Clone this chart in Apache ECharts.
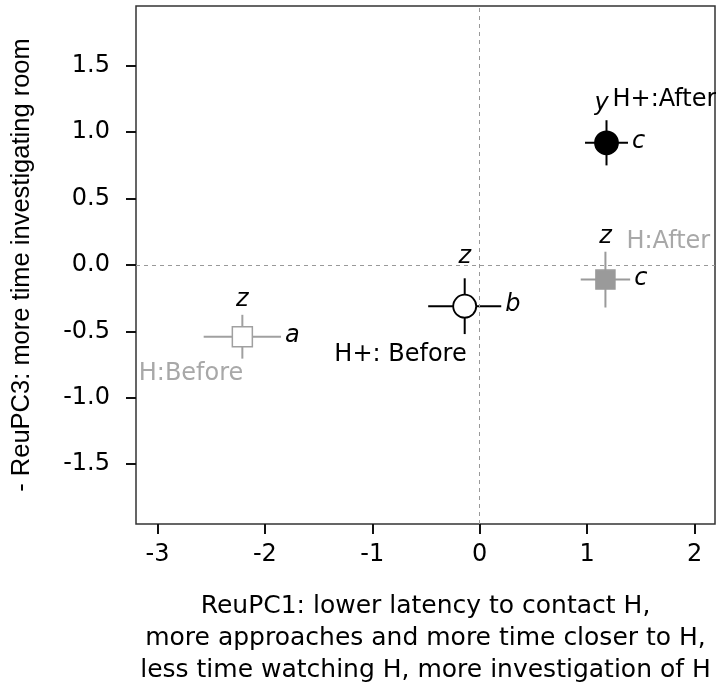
<!DOCTYPE html>
<html>
<head>
<meta charset="utf-8">
<script src="https://cdn.jsdelivr.net/npm/echarts@6/dist/echarts.min.js"></script>
<style>
  html, body { margin: 0; padding: 0; background: #fff; }
  #chart { width: 716px; height: 686px; }
</style>
</head>
<body>
<div id="chart"></div>
<script>
// group means on the two PC axes, with their error bars
var groups = ['H:Before', 'H+: Before', 'H+:After', 'H:After'];
var pc1 = [-2.21, -0.14, 1.18, 1.17];
var pc1Err = [0.36, 0.34, 0.20, 0.23];
var pc3 = [-0.54, -0.31, 0.92, -0.11];
var pc3Err = [0.165, 0.21, 0.17, 0.21];
var letterPC1 = ['a', 'b', 'c', 'c'];
var letterPC3 = ['z', 'z', 'y', 'z'];
var xTicks = [-3, -2, -1, 0, 1, 2];
var yTicks = [-1.5, -1.0, -0.5, 0.0, 0.5, 1.0, 1.5];

// look of each group
var strokeCol = ['#a0a0a0', '#000', '#000', '#9a9a9a'];
var fillCol = ['#fff', '#fff', '#000', '#9a9a9a'];
var nameCol = ['#a8a8a8', '#000', '#000', '#a8a8a8'];
var shape = ['rect', 'circle', 'circle', 'rect'];
var markSize = [20, 23, 23, 19];
// where the group name sits relative to the point (px)
var nameOff = [[1, 37, 'right'], [2, 49, 'right'], [6, -43, 'left'], [21, -38, 'left']];
var topLetterOff = [-15, -22, -16, -15];

var hFont = '"DejaVu Sans", sans-serif';
var vFont = '"Liberation Sans", Arial, Helvetica, sans-serif';

var rows = groups.map(function (g, i) {
  return [pc1[i], pc3[i], pc1Err[i], pc3Err[i], i];
});

function renderItem(params, api) {
  var i = api.value(4);
  var x = api.value(0), y = api.value(1), ex = api.value(2), ey = api.value(3);
  var c = api.coord([x, y]);
  var l = api.coord([x - ex, y]);
  var r = api.coord([x + ex, y]);
  var t = api.coord([x, y + ey]);
  var b = api.coord([x, y - ey]);
  var ls = { stroke: strokeCol[i], lineWidth: 2 };
  var s = markSize[i];
  var marker;
  if (shape[i] === 'rect') {
    marker = { type: 'rect', shape: { x: c[0] - s / 2, y: c[1] - s / 2, width: s, height: s },
      style: { fill: fillCol[i], stroke: strokeCol[i], lineWidth: 1.5 } };
  } else {
    marker = { type: 'circle', shape: { cx: c[0], cy: c[1], r: s / 2 },
      style: { fill: fillCol[i], stroke: strokeCol[i], lineWidth: 1.8 } };
  }
  var letterStyle = { fill: '#000', font: 'italic 24px ' + hFont };
  return {
    type: 'group',
    children: [
      { type: 'line', shape: { x1: l[0], y1: l[1], x2: r[0], y2: r[1] }, style: ls },
      { type: 'line', shape: { x1: t[0], y1: t[1], x2: b[0], y2: b[1] }, style: ls },
      marker,
      { type: 'text', x: r[0] + 4, y: c[1] - 1,
        style: Object.assign({ text: letterPC1[i], align: 'left', verticalAlign: 'middle' }, letterStyle) },
      { type: 'text', x: c[0] - (i === 2 ? 5 : 0), y: t[1] + topLetterOff[i],
        style: Object.assign({ text: letterPC3[i], align: 'center', verticalAlign: 'middle' }, letterStyle) },
      { type: 'text', x: c[0] + nameOff[i][0], y: c[1] + nameOff[i][1],
        style: { text: groups[i], fill: nameCol[i], font: '24px ' + hFont,
          align: nameOff[i][2], verticalAlign: 'middle' } }
    ]
  };
}

var chart = echarts.init(document.getElementById('chart'));
chart.setOption({
  animation: false,
  backgroundColor: '#fff',
  grid: { left: 136, right: 1, top: 6, bottom: 162, containLabel: false, outerBoundsMode: 'none',
    show: true, borderColor: '#333', borderWidth: 1.5 },
  xAxis: {
    type: 'value', min: -3.2, max: 2.19,
    name: 'ReuPC1: lower latency to contact H,\nmore approaches and more time closer to H,\nless time watching H, more investigation of H',
    nameLocation: 'middle', nameGap: 66,
    nameTextStyle: { fontFamily: hFont, fontSize: 25, color: '#000', lineHeight: 32, verticalAlign: 'top' },
    axisLine: { show: false, onZero: false },
    splitLine: { show: false },
    axisTick: { show: true, length: 10, customValues: xTicks, lineStyle: { color: '#111', width: 2 } },
    axisLabel: { customValues: xTicks, margin: 19, fontFamily: hFont, fontSize: 24, color: '#000' }
  },
  yAxis: {
    type: 'value', min: -1.95, max: 1.95,
    name: '- ReuPC3: more time investigating room',
    nameLocation: 'middle', nameGap: 101, nameRotate: 90,
    nameTextStyle: { fontFamily: vFont, fontSize: 25.5, color: '#000' },
    axisLine: { show: false, onZero: false },
    splitLine: { show: false },
    axisTick: { show: true, length: 10, customValues: yTicks, lineStyle: { color: '#111', width: 2 } },
    axisLabel: { customValues: yTicks, margin: 26, fontFamily: hFont, fontSize: 24, color: '#000',
      formatter: function (v) { return v.toFixed(1); } }
  },
  series: [{
    type: 'custom',
    renderItem: renderItem,
    data: rows,
    clip: false,
    markLine: {
      silent: true, symbol: 'none', label: { show: false },
      lineStyle: { color: '#999', type: [4, 4], width: 1 },
      data: [{ xAxis: 0 }, { yAxis: 0 }]
    }
  }]
});
</script>
</body>
</html>
